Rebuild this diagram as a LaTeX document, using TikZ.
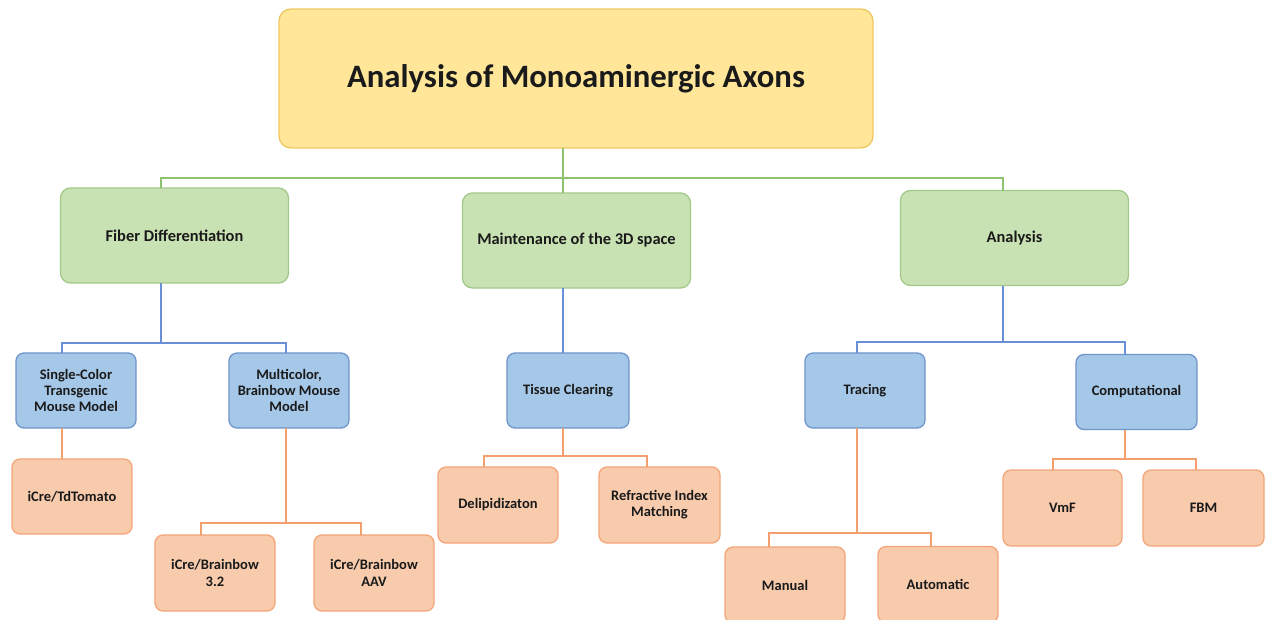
\documentclass[tikz,border=0pt]{standalone}
\usepackage{fontspec}
\setmainfont{Carlito}
\definecolor{rootfill}{HTML}{FFE699}
\definecolor{rootdraw}{HTML}{F0C862}
\definecolor{gfill}{HTML}{C9E2B4}
\definecolor{gdraw}{HTML}{A3C98A}
\definecolor{gline}{HTML}{8DC26F}
\definecolor{bfill}{HTML}{A6C8E8}
\definecolor{bdraw}{HTML}{6E95C9}
\definecolor{bline}{HTML}{6A8FD6}
\definecolor{ofill}{HTML}{F8CBAD}
\definecolor{odraw}{HTML}{F2A679}
\definecolor{oline}{HTML}{F4A06E}
\definecolor{txt}{HTML}{1A1A1A}
\begin{document}
\begin{tikzpicture}[x=1pt,y=-1pt,
  every node/.style={inner sep=0pt, outer sep=0pt},
  box/.style={draw, line width=1.3pt, rounded corners=8pt, align=center, text=txt,
    font=\bfseries\fontsize{14.5}{16.2}\selectfont, minimum width=120pt, minimum height=75pt},
  rootbox/.style={box, fill=rootfill, draw=rootdraw, rounded corners=12pt,
    font=\bfseries\fontsize{32.7}{36}\selectfont, minimum width=594pt, minimum height=139pt},
  gbox/.style={box, fill=gfill, draw=gdraw, rounded corners=10pt,
    font=\bfseries\fontsize{16.4}{18}\selectfont, minimum width=228pt, minimum height=95pt},
  bbox/.style={box, fill=bfill, draw=bdraw},
  obox/.style={box, fill=ofill, draw=odraw},
  gl/.style={draw=gline, line width=1.8pt},
  bl/.style={draw=bline, line width=1.8pt},
  ol/.style={draw=oline, line width=1.8pt}]
\useasboundingbox (0,0) rectangle (1266,619);
\fill[white] (0,0) rectangle (1266,619);

% nodes
\node[rootbox] (root) at (576,78.5) {Analysis of Monoaminergic Axons};
\node[gbox] (fiber) at (174.5,235.5) {Fiber Differentiation};
\node[gbox] (maint) at (576.5,240.5) {Maintenance of the 3D space};
\node[gbox] (anal) at (1014.5,238) {Analysis};

\node[bbox] (single) at (76,390.5) {Single-Color\\Transgenic\\Mouse Model};
\node[bbox] (multi) at (289,390.5) {Multicolor,\\Brainbow Mouse\\Model};
\node[bbox, minimum width=122pt] (tissue) at (568,390.5) {Tissue Clearing};
\node[bbox] (tracing) at (865,390.5) {Tracing};
\node[bbox, minimum width=121pt] (comp) at (1136.5,392) {Computational};

\node[obox] (tdtom) at (72,496.5) {iCre/TdTomato};
\node[obox, minimum height=76pt] (bb32) at (215,573) {iCre/Brainbow\\3.2};
\node[obox, minimum height=76pt] (bbaav) at (374,573) {iCre/Brainbow\\AAV};
\node[obox, minimum height=76pt] (delip) at (498,505) {Delipidizaton};
\node[obox, minimum height=76pt, minimum width=121pt] (refr) at (659.5,505) {Refractive Index\\Matching};
\node[obox, minimum height=76pt] (manual) at (785,585) {Manual};
\node[obox, minimum height=76pt] (auto) at (938,584.5) {Automatic};
\node[obox, minimum height=76pt, minimum width=119pt] (vmf) at (1062.5,508) {VmF};
\node[obox, minimum height=76pt, minimum width=121pt] (fbm) at (1203.5,508) {FBM};

% green connectors
\coordinate (gbar) at (563,178);
\draw[gl] (root.south -| gbar) -- (gbar);
\draw[gl] ([xshift=-13.5pt]fiber.north) |- (gbar) -| ([xshift=-11.5pt]anal.north);
\draw[gl] (gbar) -- (maint.north -| gbar);

% blue connectors
\coordinate (b1) at (161,343);
\draw[bl] (fiber.south -| b1) -- (b1);
\draw[bl] ([xshift=-14pt]single.north) |- (b1) -| ([xshift=-3pt]multi.north);
\draw[bl] (maint.south -| gbar) -- (tissue.north -| gbar);
\coordinate (b3) at (1003,342);
\draw[bl] (anal.south -| b3) -- (b3);
\draw[bl] ([xshift=-8pt]tracing.north) |- (b3) -| ([xshift=-11.5pt]comp.north);

% orange connectors
\draw[ol] ([xshift=-14pt]single.south) -- ([xshift=-14pt]single.south |- tdtom.north);
\coordinate (o2) at (286,523);
\draw[ol] (multi.south -| o2) -- (o2);
\draw[ol] ([xshift=-14pt]bb32.north) |- (o2) -| ([xshift=-13pt]bbaav.north);
\coordinate (o3) at (563,456);
\draw[ol] (tissue.south -| o3) -- (o3);
\draw[ol] ([xshift=-14pt]delip.north) |- (o3) -| ([xshift=-12.5pt]refr.north);
\coordinate (o4) at (857,533);
\draw[ol] (tracing.south -| o4) -- (o4);
\draw[ol] ([xshift=-16pt]manual.north) |- (o4) -| ([xshift=-7pt]auto.north);
\coordinate (o5) at (1125,459);
\draw[ol] (comp.south -| o5) -- (o5);
\draw[ol] ([xshift=-9.5pt]vmf.north) |- (o5) -| ([xshift=-7.5pt]fbm.north);
\end{tikzpicture}
\end{document}
